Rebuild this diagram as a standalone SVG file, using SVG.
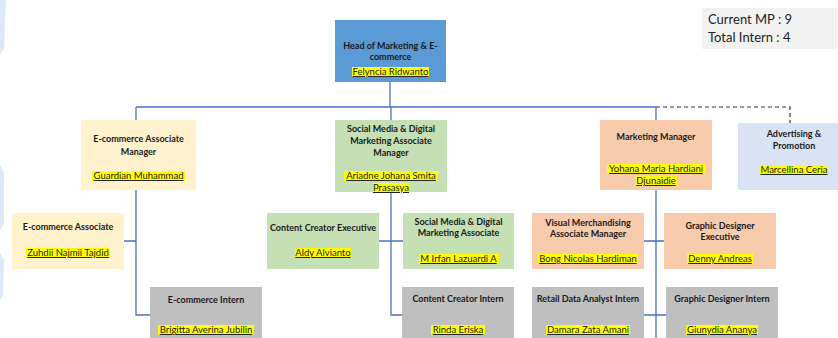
<svg xmlns="http://www.w3.org/2000/svg" width="838" height="338" viewBox="0 0 838 338">
<style>
.t{font-family:Lato,"Liberation Sans",sans-serif;font-weight:bold;font-size:9px;fill:#1a1a1a;text-anchor:middle}
.n{font-family:Lato,"Liberation Sans",sans-serif;font-size:9.5px;fill:#1a1a1a;text-anchor:middle;text-decoration:underline}
.hl{fill:#ffff00}
.c{fill:none;stroke:#4a72c0;stroke-width:1.3}
.d{fill:none;stroke:#333;stroke-width:1.2;stroke-dasharray:4,3}
.info{font-family:Lato,"Liberation Sans",sans-serif;font-size:13px;fill:#222}
</style>
<rect width="838" height="338" fill="#fff"/>
<g id="decor" fill="#dde9f6">
<polygon points="0,0 6,0 4,48 0,55"/>
<polygon points="0,165 4,172 4,224 0,230"/>
<polygon points="0,253 4,260 3,295 0,300"/>
</g>
<g id="info">
<rect x="702" y="8" width="135" height="41" fill="#f2f2f2"/>
<text class="info" x="708" y="24">Current MP : 9</text>
<text class="info" x="708" y="42">Total Intern : 4</text>
</g>
<g id="connectors">
<path class="c" d="M390,82V107M136,107H656M136,107V120M391,107V120M656,107V120"/>
<path class="d" d="M656,107H790V123"/>
<path class="c" d="M136,190V315H150M124,241H136"/>
<path class="c" d="M391,192V315H402M379,241H403"/>
<path class="c" d="M656,190V338M644,241H664M644,315H666"/>
</g>
<g id="head">
<rect x="335" y="20" width="111" height="62" fill="#5b9bd5"/>
<text class="t" x="390.5" y="49">Head of Marketing &amp; E-</text>
<text class="t" x="390.5" y="60">commerce</text>
<rect class="hl" x="352" y="67" width="77" height="10"/>
<text class="n" x="390.5" y="75">Felyncia Ridwanto</text>
</g>
<g id="ecom-mgr">
<rect x="81" y="120" width="115" height="70" fill="#fff2cc"/>
<text class="t" x="138.5" y="142">E-commerce Associate</text>
<text class="t" x="138.5" y="155">Manager</text>
<rect class="hl" x="92" y="171" width="93" height="10"/>
<text class="n" x="138.5" y="179">Guardian Muhammad</text>
</g>
<g id="sm-mgr">
<rect x="335" y="120" width="112" height="72" fill="#c5e0b4"/>
<text class="t" x="391" y="132">Social Media &amp; Digital</text>
<text class="t" x="391" y="144">Marketing Associate</text>
<text class="t" x="391" y="156">Manager</text>
<rect class="hl" x="344" y="171" width="94" height="10"/>
<text class="n" x="391" y="179">Ariadne Johana Smita</text>
<rect class="hl" x="373" y="183" width="36" height="9"/>
<text class="n" x="391" y="191">Prasasya</text>
</g>
<g id="mkt-mgr">
<rect x="600" y="120" width="112" height="70" fill="#f8cbad"/>
<text class="t" x="656" y="140">Marketing Manager</text>
<rect class="hl" x="607" y="164" width="98" height="10"/>
<text class="n" x="656" y="172">Yohana Maria Hardiani</text>
<rect class="hl" x="635" y="176" width="42" height="10"/>
<text class="n" x="656" y="184">Djunaidie</text>
</g>
<g id="adv">
<rect x="738" y="123" width="100" height="67" fill="#dae3f3"/>
<text class="t" x="794" y="137">Advertising &amp;</text>
<text class="t" x="794" y="149">Promotion</text>
<rect class="hl" x="760" y="165" width="68" height="10"/>
<text class="n" x="794" y="173">Marcellina Ceria</text>
</g>
<g id="ecom-assoc">
<rect x="12" y="213" width="112" height="56" fill="#fff2cc"/>
<text class="t" x="68" y="230">E-commerce Associate</text>
<rect class="hl" x="26" y="248" width="84" height="10"/>
<text class="n" x="68" y="256">Zuhdii Najmii Tajdid</text>
</g>
<g id="cc-exec">
<rect x="267" y="213" width="112" height="56" fill="#c5e0b4"/>
<text class="t" x="323" y="231">Content Creator Executive</text>
<rect class="hl" x="295" y="248" width="56" height="10"/>
<text class="n" x="323" y="256">Aldy Alvianto</text>
</g>
<g id="sm-assoc">
<rect x="403" y="213" width="111" height="56" fill="#c5e0b4"/>
<text class="t" x="458.5" y="225">Social Media &amp; Digital</text>
<text class="t" x="458.5" y="236">Marketing Associate</text>
<rect class="hl" x="419" y="254" width="80" height="10"/>
<text class="n" x="458.5" y="262">M Irfan Lazuardi A</text>
</g>
<g id="vm-mgr">
<rect x="532" y="213" width="112" height="56" fill="#f8cbad"/>
<text class="t" x="588" y="226">Visual Merchandising</text>
<text class="t" x="588" y="237">Associate Manager</text>
<rect class="hl" x="538" y="254" width="100" height="10"/>
<text class="n" x="588" y="262">Bong Nicolas Hardiman</text>
</g>
<g id="gd-exec">
<rect x="664" y="213" width="112" height="56" fill="#f8cbad"/>
<text class="t" x="720" y="229">Graphic Designer</text>
<text class="t" x="720" y="240">Executive</text>
<rect class="hl" x="687" y="254" width="66" height="10"/>
<text class="n" x="720" y="262">Denny Andreas</text>
</g>
<g id="ecom-intern">
<rect x="150" y="287" width="112" height="60" fill="#bfbfbf"/>
<text class="t" x="206" y="303">E-commerce Intern</text>
<rect class="hl" x="158" y="325" width="96" height="10"/>
<text class="n" x="206" y="333">Brigitta Averina Jubilin</text>
</g>
<g id="cc-intern">
<rect x="402" y="287" width="112" height="60" fill="#bfbfbf"/>
<text class="t" x="458" y="302">Content Creator Intern</text>
<rect class="hl" x="431" y="325" width="54" height="10"/>
<text class="n" x="458" y="333">Rinda Eriska</text>
</g>
<g id="rda-intern">
<rect x="532" y="287" width="112" height="60" fill="#bfbfbf"/>
<text class="t" x="588" y="302">Retail Data Analyst Intern</text>
<rect class="hl" x="546" y="325" width="84" height="10"/>
<text class="n" x="588" y="333">Damara Zata Amani</text>
</g>
<g id="gd-intern">
<rect x="666" y="287" width="112" height="60" fill="#bfbfbf"/>
<text class="t" x="722" y="302">Graphic Designer Intern</text>
<rect class="hl" x="686" y="325" width="72" height="10"/>
<text class="n" x="722" y="333">Giunydia Ananya</text>
</g>
</svg>
